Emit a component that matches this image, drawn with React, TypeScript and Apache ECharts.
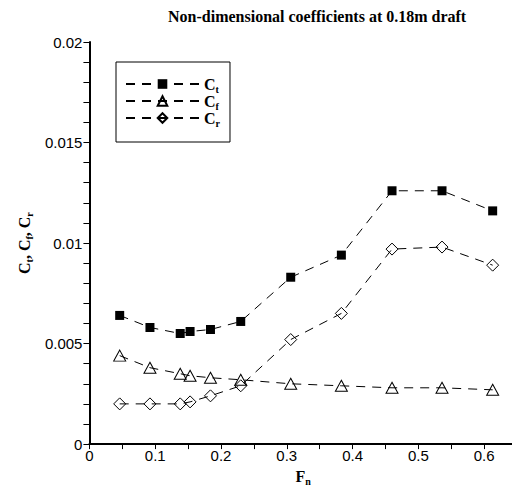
import React, { useEffect, useRef } from "react";
import * as echarts from "echarts";

const titleText = "Non-dimensional coefficients at 0.18m draft";
const froudeNumbers = [0.046, 0.092, 0.138, 0.153, 0.184, 0.23, 0.306, 0.383, 0.46, 0.536, 0.613];
const ctValues = [0.0064, 0.0058, 0.0055, 0.0056, 0.0057, 0.0061, 0.0083, 0.0094, 0.0126, 0.0126, 0.0116];
const cfValues = [0.0044, 0.0038, 0.0035, 0.0034, 0.0033, 0.0032, 0.003, 0.0029, 0.0028, 0.0028, 0.0027];
const crValues = [0.002, 0.002, 0.002, 0.0021, 0.0024, 0.0029, 0.0052, 0.0065, 0.0097, 0.0098, 0.0089];
const seriesNames = ["Ct", "Cf", "Cr"];
const subscripts: Record<string, string> = { Ct: "t", Cf: "f", Cr: "r" };

const serif = "'Liberation Serif', 'Times New Roman', serif";
const sans = "'Liberation Sans', Arial, sans-serif";

const richSub = {
  m: { fontFamily: serif, fontWeight: "bold", fontSize: 16, lineHeight: 20, color: "#000", verticalAlign: "middle" },
  s: { fontFamily: serif, fontWeight: "bold", fontSize: 10, lineHeight: 8, color: "#000", verticalAlign: "bottom" },
};

export default function App() {
  const ref = useRef<HTMLDivElement>(null);
  useEffect(() => {
    if (!ref.current) return;
    const chart = echarts.init(ref.current, null, { renderer: "svg" });
    const dash = [9, 7];
    const mk = (vals: number[]) => froudeNumbers.map((x, i) => [x, vals[i]]);
    const base = (name: string, vals: number[], symbol: string, size: any, filled: boolean) => ({
      name,
      type: "line",
      data: mk(vals),
      symbol,
      symbolSize: size,
      showAllSymbol: true,
      lineStyle: { color: "#000", width: 1, type: dash },
      itemStyle: filled
        ? { color: "#000", borderColor: "#000", borderWidth: 0 }
        : { color: "rgba(255,255,255,0)", borderColor: "#000", borderWidth: 1 },
      emphasis: { disabled: true },
    });
    chart.setOption({
      animation: false,
      backgroundColor: "#fff",
      title: {
        text: titleText,
        left: 160,
        top: 0,
        padding: 0,
        textStyle: { fontFamily: serif, fontWeight: "bold", fontSize: 16, color: "#000" },
      },
      legend: {
        orient: "vertical",
        left: 108,
        top: 54,
        padding: [14, 10, 14, 9],
        itemWidth: 73,
        itemHeight: 12,
        itemGap: -1,
        borderColor: "#000",
        borderWidth: 1,
        data: seriesNames,
        formatter: (n: string) => `{m|C}{s|${subscripts[n]}}`,
        textStyle: { rich: richSub },
      },
      grid: { left: 64, top: 34, right: 0, bottom: 43 },
      xAxis: {
        type: "value",
        min: 0,
        max: 0.65,
        interval: 0.05,
        name: "{m|F}{s|n}",
        nameLocation: "middle",
        nameGap: 18,
        nameTextStyle: { rich: richSub },
        axisLine: { show: true, onZero: false, lineStyle: { color: "#000", width: 2 } },
        axisTick: { show: true, length: 5, lineStyle: { color: "#000", width: 1 } },
        splitLine: { show: false },
        axisLabel: {
          color: "#000",
          fontFamily: sans,
          fontSize: 15,
          margin: 4,
          formatter: (v: number) => {
            const t = v * 10;
            return Math.abs(t - Math.round(t)) < 1e-6 ? String(+v.toFixed(1)) : "";
          },
        },
      },
      yAxis: {
        type: "value",
        min: 0,
        max: 0.02,
        interval: 0.005,
        name: "{m|C}{s|t}{m|, C}{s|f}{m|, C}{s|r}",
        nameLocation: "middle",
        nameGap: 46,
        nameRotate: 90,
        nameTextStyle: { rich: richSub },
        axisLine: { show: true, lineStyle: { color: "#000", width: 2 } },
        axisTick: { show: true, length: 6, lineStyle: { color: "#000", width: 1 } },
        minorTick: { show: true, splitNumber: 5, length: 6, lineStyle: { color: "#000", width: 1 } },
        splitLine: { show: false },
        axisLabel: { color: "#000", fontFamily: sans, fontSize: 15, margin: 7 },
      },
      series: [
        base("Ct", ctValues, "rect", 9, true),
        base("Cf", cfValues, "triangle", [12, 11], false),
        base("Cr", crValues, "diamond", 12, false),
      ],
    });
    return () => chart.dispose();
  }, []);
  return <div ref={ref} style={{ width: 512, height: 483 }} />;
}
